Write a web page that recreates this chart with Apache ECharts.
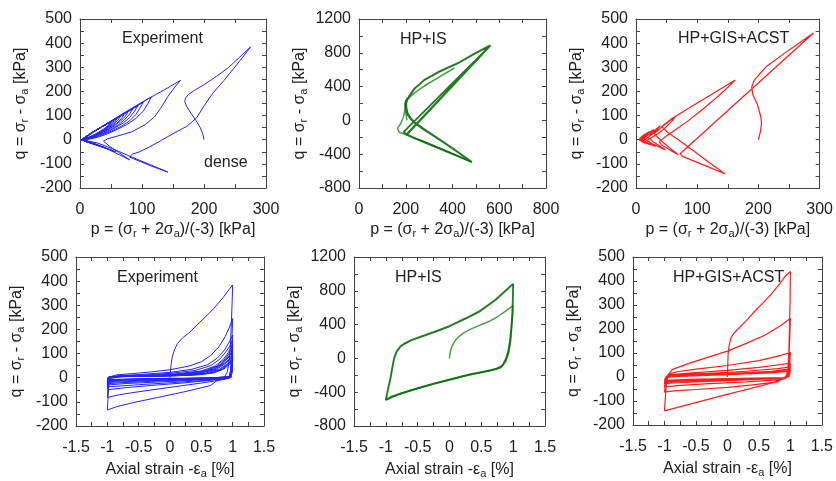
<!DOCTYPE html>
<html><head><meta charset="utf-8">
<script src="https://cdn.jsdelivr.net/npm/echarts@6/dist/echarts.min.js"></script>
<style>html,body{margin:0;padding:0;background:#fff}#c{width:836px;height:481px}</style>
</head><body><div id="c"></div>
<script>
// ---------- DATA ----------
// Panel 1: Experiment, p-q stress path [p kPa, q kPa]
const expPQ = [[200,0],[198,25],[194,50],[187,80],[179,110],[172,138],[169,158],[170,172],[175,188],[185,205],[200,228],[220,262],[240,300],[258,343],[275,384],
[262,340],[248,295],[232,245],[215,195],[200,140],[188,90],[172,55],[150,25],[131,-3],[112,-30],[96,-50],[84,-60],[80,-72],[95,-88],[118,-112],[142,-134],
[110,-100],[80,-68],[55,-40],[29,-14],[10,-4],[2,0],
[20,30],[50,78],[80,125],[110,170],[135,205],[162,246],
[152,215],[142,180],[130,130],[120,94],[105,62],[83,32],[60,15],[45,4],[38,-6],[48,-28],[62,-52],[80,-83],
[60,-58],[40,-33],[20,-12],[6,-2],[2,0],
[12,17],[35,53],[60,92],[88,135],[115,177],
[110,152],[102,118],[90,88],[75,62],[58,40],[42,22],[28,10],[16,3],[8,0],[20,-16],[38,-33],[58,-50],
[40,-32],[20,-14],[6,-3],[2,0],
[15,23],[40,61],[70,107],[102,155],
[97,132],[90,104],[80,78],[66,55],[50,35],[36,20],[22,8],[12,2],[6,0],[18,-14],[32,-27],[45,-38],
[30,-24],[15,-10],[4,-2],[2,0],
[15,23],[40,61],[65,98],[93,140],
[88,118],[80,92],[70,70],[57,50],[44,32],[30,18],[18,7],[8,1],[18,-14],[28,-23],[36,-30],
[24,-19],[12,-8],[3,-1],
[20,30],[45,68],[68,103],[85,128],
[80,106],[72,83],[62,62],[50,44],[38,28],[25,14],[14,5],[6,0],[16,-13],[30,-25],
[18,-14],[6,-4],[2,0],
[25,38],[50,76],[78,118],
[73,97],[65,76],[55,57],[44,40],[32,25],[20,12],[10,3],[5,0],[15,-12],[25,-20],
[14,-11],[4,-2],
[25,38],[50,76],[72,108],
[67,88],[59,68],[49,50],[38,34],[27,20],[16,9],[8,2],[4,0],[12,-10],[20,-16],
[10,-7],[3,-1],
[25,38],[45,68],[66,100],
[61,80],[53,62],[44,45],[34,30],[23,17],[13,7],[6,1],[11,-8],[16,-13],
[8,-5],[2,0],
[25,38],[45,68],[61,92],
[56,73],[48,56],[39,40],[29,26],[19,14],[10,5],[4,0],[9,-7],[13,-12],[6,-4],[2,0],
[22,34],[40,61],[57,86],
[52,68],[45,52],[36,37],[27,24],[18,13],[9,4],[4,0],[9,-6],[12,-10],[6,-4],[2,0],
[22,34],[38,58],[53,80],
[48,63],[41,48],[33,34],[25,22],[16,12],[8,4],[4,0],[8,-5],[11,-9],[5,-3],[2,0],
[22,33],[36,55],[50,75],
[45,58],[38,44],[30,31],[22,20],[14,10],[7,3],[3,0],[7,-5],[10,-8],[5,-3],[2,0],
[20,30],[34,52],[47,70]];

// Panel 2: HP+IS, p-q (first cycle = light, later cycles = dark)
const hpPQ_first = [[205,0],[202,60],[199,130],[200,190],[208,245],[225,300],[260,370],[300,440],[350,525],[408,620],
[340,510],[280,410],[235,320],[208,250],[198,200],[196,120],[190,40],[178,-40],[165,-95],[160,-117],[172,-140],[210,-180],[280,-255],[380,-370],[483,-492]];
const hpPQ_cycles = [[483,-492],[420,-420],[350,-340],[280,-260],[230,-200],[200,-160],[191,-137],[562,889],
[500,800],[419,671],[340,570],[277,474],[235,370],[212,277],[200,230],[198,198],[200,140],[205,79],[220,20],[241,-39],[290,-130],[348,-236],[420,-370],[483,-492],
[420,-418],[350,-336],[282,-258],[232,-203],[205,-168],[198,-150],[562,886],
[505,805],[425,680],[345,580],[283,485],[240,385],[216,290],[204,240],[202,205],[203,150],[208,85],[222,25],[243,-35],[292,-128],[350,-234],[420,-368],[481,-490],
[418,-416],[348,-334],[280,-256],[230,-200],[203,-165],[196,-146],[560,884],
[503,803],[422,676],[343,576],[280,480],[238,378],[214,284],[202,236],[200,202],[201,146],[206,82],[221,22],[242,-37],[291,-129],[349,-235],[420,-369],[482,-491]];

// Panel 3: HP+GIS+ACST, p-q
const acstPQ = [[200,0],[203,30],[205,66],[204,94],[198,149],[191,184],[189,218],[193,246],[212,301],[249,370],[290,442],
[72,-58],[70,-62],[76,-69],[110,-104],[145,-141],
[120,-95],[95,-48],[72,-5],[52,30],[42,55],[60,90],[100,152],[130,198],[162,247],
[145,205],[125,160],[105,118],[85,78],[65,42],[48,12],[38,-8],[42,-22],[55,-42],[69,-62],
[58,-40],[46,-15],[36,8],[30,25],[40,48],[52,72],[65,98],
[58,75],[48,50],[36,25],[25,8],[18,-2],[25,-15],[36,-28],[48,-42],
[38,-25],[28,-8],[20,8],[26,30],[40,58],
[34,40],[25,20],[17,5],[12,-3],[20,-15],[32,-28],
[24,-14],[15,0],[12,10],[20,28],[29,42],
[24,28],[17,14],[11,3],[9,-3],[16,-13],[24,-22],
[16,-10],[10,0],[9,8],[15,22],[22,34],
[18,22],[12,10],[8,2],[7,-3],[12,-10],[18,-17],
[12,-8],[7,0],[8,10],[18,28],
[14,16],[9,6],[6,0],[9,-7],[14,-14],
[9,-6],[5,0],[8,10],[15,24]];

// Panel 4: Experiment, axial strain [%] - q [kPa]
const expEQ = [[0,0],[0.005,20],[0.015,50],[0.035,85],[0.07,115],[0.12,142],[0.2,165],[0.3,185],[0.43,218],[0.55,248],[0.7,287],[0.85,333],[0.95,368],[1,384],
[0.99,300],[0.975,200],[0.96,120],[0.94,60],[0.91,20],[0.86,0],[0.79,-8],[0.74,-14],[0.7,-22],[0.65,-32],[0.5,-42],[0.2,-60],[-0.2,-82],[-0.6,-104],[-0.85,-120],[-1,-134],
[-0.99,-90],[-0.98,-45],[-0.965,-10],[-0.94,5],[-0.85,12],[-0.6,17],[-0.3,24],[0,33],[0.3,48],[0.5,66],[0.65,92],[0.78,128],[0.88,170],[0.95,210],[1,245],
[0.99,170],[0.98,90],[0.965,30],[0.94,2],[0.88,-6],[0.8,-10],[0.5,-22],[0,-40],[-0.5,-58],[-0.8,-70],[-1,-82],
[-0.99,-45],[-0.975,-12],[-0.95,2],[-0.85,8],[-0.5,13],[0,22],[0.35,35],[0.6,54],[0.75,80],[0.87,115],[0.95,150],[1,177],
[0.99,110],[0.975,45],[0.955,5],[0.9,-4],[0.6,-12],[0.2,-22],[-0.3,-32],[-0.7,-41],[-1,-50],
[-0.985,-20],[-0.965,-2],[-0.9,5],[-0.5,10],[0,18],[0.4,30],[0.65,50],[0.8,78],[0.9,110],[0.96,133],[1,155],
[0.99,90],[0.975,30],[0.955,2],[0.9,-3],[0.5,-12],[0,-21],[-0.5,-29],[-1,-38],
[-0.985,-12],[-0.96,2],[-0.85,5],[-0.4,9],[0.1,16],[0.5,28],[0.72,48],[0.85,76],[0.93,104],[1,140],
[0.99,75],[0.975,20],[0.95,0],[0.85,-3],[0.4,-10],[-0.2,-18],[-0.7,-24],[-1,-30],
[-0.985,-8],[-0.96,3],[-0.8,6],[-0.3,9],[0.2,16],[0.55,28],[0.75,48],[0.88,78],[0.95,103],[1,128],
[0.99,65],[0.975,15],[0.95,-1],[0.8,-3],[0.3,-9],[-0.3,-15],[-0.8,-21],[-1,-25],
[-0.985,-5],[-0.96,3],[-0.75,6],[-0.2,9],[0.3,17],[0.6,30],[0.8,53],[0.9,78],[0.96,98],[1,118],
[0.99,55],[0.975,10],[0.95,-2],[0.75,-3],[0.2,-8],[-0.4,-13],[-1,-20],
[-0.985,-3],[-0.95,4],[-0.7,6],[-0.1,9],[0.4,18],[0.7,36],[0.85,60],[0.94,86],[1,108],
[0.99,48],[0.975,8],[0.95,-2],[0.7,-3],[0.1,-7],[-0.5,-11],[-1,-16],
[-0.985,-2],[-0.95,4],[-0.6,6],[0,10],[0.45,19],[0.72,36],[0.87,60],[0.95,80],[1,100],
[0.99,42],[0.975,6],[0.95,-2],[0.6,-3],[0,-6],[-0.6,-9],[-1,-13],
[-0.985,0],[-0.95,4],[-0.5,6],[0.1,10],[0.5,19],[0.75,36],[0.88,58],[0.96,78],[1,92],
[0.99,36],[0.975,4],[0.95,-2],[0.5,-3],[-0.2,-6],[-0.8,-9],[-1,-12],
[-0.985,1],[-0.95,4],[-0.4,6],[0.2,10],[0.55,18],[0.78,34],[0.9,55],[0.97,75],[1,86],
[0.99,32],[0.975,3],[0.95,-2],[0.4,-3],[-0.3,-5],[-1,-10],
[-0.985,1],[-0.95,4],[-0.3,6],[0.3,10],[0.6,18],[0.8,33],[0.92,55],[1,80],
[0.99,28],[0.975,2],[0.95,-1],[0.3,-3],[-0.4,-5],[-1,-9],
[-0.985,2],[-0.95,4],[-0.2,6],[0.35,11],[0.65,19],[0.83,34],[0.93,54],[1,75],
[0.99,25],[0.975,2],[0.95,-1],[0.2,-2],[-0.5,-4],[-1,-8],
[-0.985,2],[-0.95,4],[0,7],[0.45,12],[0.7,20],[0.86,36],[0.95,55],[1,70]];

// Panel 5: HP+IS, axial strain - q
const hpEQ_first = [[0,0],[0.005,45],[0.02,100],[0.04,145],[0.08,200],[0.14,255],[0.22,300],[0.3,335],[0.45,385],[0.6,430],[0.75,490],[0.88,560],[0.96,605],[1,625],
[0.99,500],[0.975,350],[0.96,200],[0.93,60],[0.88,-40],[0.82,-90],[0.75,-115],[0.65,-140],[0.3,-196],[-0.2,-290],[-0.75,-413],[-1,-492]];
const hpEQ_cycles = [[-1,-492],[-0.97,-380],[-0.93,-250],[-0.9,-120],[-0.87,0],[-0.83,80],[-0.77,140],[-0.7,175],[-0.6,215],[-0.45,255],[-0.24,310],[0,380],[0.25,470],[0.46,550],[0.72,690],[0.88,800],[0.96,855],[1,880],
[0.995,700],[0.985,500],[0.97,350],[0.95,200],[0.92,70],[0.88,-20],[0.84,-80],[0.8,-110],[0.72,-130],[0.6,-150],[0.3,-196],[-0.22,-295],[-0.5,-355],[-0.75,-413],[-0.9,-450],[-1,-492],
[-0.97,-375],[-0.93,-245],[-0.9,-115],[-0.87,5],[-0.83,84],[-0.77,144],[-0.7,179],[-0.6,218],[-0.45,258],[-0.24,313],[0,383],[0.25,473],[0.46,553],[0.72,692],[0.88,802],[0.96,857],[1,882],
[0.995,705],[0.985,505],[0.97,355],[0.95,205],[0.92,75],[0.88,-15],[0.84,-76],[0.8,-106],[0.72,-127],[0.6,-147],[0.3,-193],[-0.22,-292],[-0.5,-352],[-0.75,-410],[-0.9,-448],[-1,-490]];

// Panel 6: HP+GIS+ACST, axial strain - q
const acstEQ = [[0,0],[0.005,50],[0.01,94],[0.03,136],[0.056,163],[0.1,182],[0.16,198],[0.3,235],[0.43,273],[0.56,308],[0.69,343],[0.82,385],[0.92,420],[1,440],
[0.995,320],[0.985,200],[0.975,100],[0.96,30],[0.93,0],[0.88,-8],[0.8,-14],[0.74,-23],[-0.16,-83],[-1,-141],
[-0.985,-80],[-0.97,-30],[-0.95,0],[-0.92,18],[-0.87,32],[-0.84,39],[-0.6,58],[-0.3,83],[0,108],[0.3,140],[0.6,175],[0.85,215],[1,245],
[0.99,170],[0.98,100],[0.965,40],[0.95,10],[0.9,-5],[0.85,-10],[0.8,-20],[0.4,-33],[0,-43],[-0.5,-52],[-0.85,-58],[-1,-63],
[-0.985,-30],[-0.97,-5],[-0.95,8],[-0.9,15],[-0.8,22],[-0.5,33],[0,48],[0.5,68],[0.85,90],[1,103],
[0.99,60],[0.975,20],[0.95,0],[0.9,-8],[0.8,-12],[0.3,-20],[-0.3,-28],[-0.8,-36],[-1,-42],
[-0.985,-15],[-0.96,3],[-0.9,10],[-0.5,18],[0,28],[0.5,40],[0.85,52],[1,58],
[0.99,30],[0.975,8],[0.95,-2],[0.85,-6],[0.3,-12],[-0.3,-18],[-0.8,-24],[-1,-28],
[-0.985,-8],[-0.96,4],[-0.85,9],[-0.3,15],[0.3,24],[0.8,35],[1,42],
[0.985,15],[0.97,2],[0.93,-3],[0.5,-8],[-0.2,-13],[-0.8,-18],[-1,-22],
[-0.985,-5],[-0.96,4],[-0.8,8],[0,14],[0.7,24],[1,34],
[0.985,10],[0.97,0],[0.9,-3],[0.3,-7],[-0.5,-11],[-1,-17],
[-0.985,-3],[-0.96,4],[-0.7,7],[0,12],[0.7,20],[1,28],
[0.985,8],[0.97,0],[0.9,-2],[0.2,-6],[-0.6,-10],[-1,-14],
[-0.98,0],[-0.95,4],[0,10],[0.7,17],[1,24]];

// Panel labels
const panelTitles = ['Experiment','HP+IS','HP+GIS+ACST','Experiment','HP+IS','HP+GIS+ACST'];
const noteText = 'dense';

// ---------- CHART ----------
const FONT = '"Liberation Sans", Arial, Helvetica, sans-serif';
const rich = {
  n:{fontSize:16,fontFamily:FONT,color:'#222'},
  s:{fontSize:11,fontFamily:FONT,color:'#222',padding:[7,0,0,0]}
};
const pName = '{n|p = (σ}{s|r}{n| + 2σ}{s|a}{n|)/(-3) [kPa]}';
const qName = '{n|q = σ}{s|r}{n| - σ}{s|a}{n| [kPa]}';
const eName = '{n|Axial strain -ε}{s|a}{n| [%]}';

const grids = [
  {left:80, top:19, width:186, height:169},
  {left:359, top:19, width:187, height:169},
  {left:636, top:19, width:186, height:169},
  {left:76, top:257, width:188, height:169},
  {left:354, top:257, width:191, height:169},
  {left:633, top:257, width:189, height:168}
];
const xs = [
  {min:0,max:300,step:50,lab:100,name:pName,gap:33},
  {min:0,max:800,step:100,lab:200,name:pName,gap:33},
  {min:0,max:300,step:50,lab:100,name:pName,gap:33},
  {min:-1.5,max:1.5,step:0.25,lab:0.5,name:eName,gap:35},
  {min:-1.5,max:1.5,step:0.25,lab:0.5,name:eName,gap:35},
  {min:-1.5,max:1.5,step:0.25,lab:0.5,name:eName,gap:35}
];
const ys = [
  {min:-200,max:500,step:50,lab:100},
  {min:-800,max:1200,step:200,lab:400},
  {min:-200,max:500,step:50,lab:100},
  {min:-200,max:500,step:50,lab:100},
  {min:-800,max:1200,step:200,lab:400},
  {min:-200,max:500,step:50,lab:100}
];
const AX = '#444';
function fmt(lab){ return v => (Math.abs(v/lab - Math.round(v/lab)) < 1e-6 ? String(+v.toFixed(2)) : ''); }
function axis(kind, i, spec, pos, main){
  const a = {
    gridIndex:i, type:'value', min:spec.min, max:spec.max, interval:spec.step, position:pos,
    axisLine:{show:true, onZero:false, lineStyle:{color:AX, width:1}},
    axisTick:{show:true, inside:true, length:4, lineStyle:{color:AX}},
    splitLine:{show:false},
    axisLabel:{show:main, formatter:fmt(spec.lab), fontSize:16, fontFamily:FONT, color:'#222', margin: kind==='x'?14:8, showMinLabel:true, showMaxLabel:true}
  };
  if (main){
    if (kind==='x'){ a.name = spec.name; a.nameLocation='middle'; a.nameGap=spec.gap; }
    else { a.name = qName; a.nameLocation='middle'; a.nameGap=50; a.nameRotate=90; }
    a.nameTextStyle = {rich:rich};
  }
  return a;
}
const xAxis = [], yAxis = [];
for (let i=0;i<6;i++){
  xAxis.push(axis('x',i,xs[i],'bottom',true));
  xAxis.push(axis('x',i,xs[i],'top',false));
  yAxis.push(axis('y',i,ys[i],'left',true));
  yAxis.push(axis('y',i,ys[i],'right',false));
}
function line(i, data, color, width, opacity){
  return {type:'line', xAxisIndex:2*i, yAxisIndex:2*i, data:data, showSymbol:false, symbol:'none',
    lineStyle:{color:color, width:width, opacity:opacity}, itemStyle:{color:color}, animation:false, silent:true, clip:true};
}
const BLUE='#2424ff', RED='#ff1c1c', DG='#0b6b0b', LG='#4e9c4e';
const series = [
  line(0, expPQ, BLUE, 1, 1),
  line(1, hpPQ_first, LG, 1.5, 1),
  line(1, hpPQ_cycles, DG, 1.8, 0.9),
  line(2, acstPQ, RED, 1.2, 1),
  line(3, expEQ, BLUE, 1, 1),
  line(4, hpEQ_first, LG, 1.5, 1),
  line(4, hpEQ_cycles, DG, 1.8, 0.9),
  line(5, acstEQ, RED, 1.2, 1)
];
const tpos = [[122,31],[400,32],[678,31],[117,270],[395,270],[673,270]];
const title = panelTitles.map((t,k)=>({text:t, left:tpos[k][0], top:tpos[k][1], padding:0,
  textStyle:{fontSize:16, fontWeight:'normal', fontFamily:FONT, color:'#222'}}));
title.push({text:noteText, left:204, top:155, padding:0, textStyle:{fontSize:16, fontWeight:'normal', fontFamily:FONT, color:'#222'}});

const chart = echarts.init(document.getElementById('c'), null, {renderer:'canvas'});
chart.setOption({backgroundColor:'#fff', animation:false, title:title, grid:grids, xAxis:xAxis, yAxis:yAxis, series:series});
</script></body></html>
